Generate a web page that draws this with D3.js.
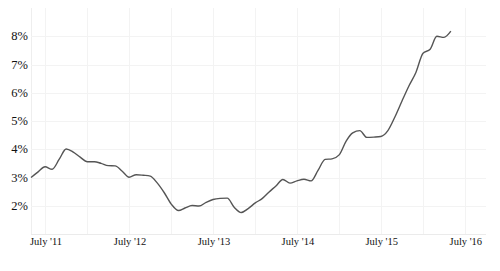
<!DOCTYPE html>
<html>
<head>
<meta charset="utf-8">
<script src="https://cdn.jsdelivr.net/npm/d3@7"></script>
<style>
  body { margin: 0; background: #fff; }
  svg text { font-family: "Liberation Serif", "Times New Roman", serif; fill: #111; }
</style>
</head>
<body>
<svg width="500" height="271"></svg>
<script>
// monthly values, May 2011 .. May 2016
var startMonth = [2011, 4];
var values = [
  3.00, 3.20, 3.38, 3.29, 3.65, 4.01, 3.90, 3.72, 3.56, 3.56, 3.50, 3.42,
  3.41, 3.22, 3.01, 3.10, 3.08, 3.05, 2.80, 2.46, 2.05, 1.83, 1.92, 2.01,
  1.99, 2.12, 2.22, 2.26, 2.27, 1.95, 1.76, 1.90, 2.10, 2.26, 2.48, 2.70,
  2.93, 2.80, 2.88, 2.94, 2.88, 3.25, 3.64, 3.66, 3.80, 4.30, 4.58, 4.66,
  4.42, 4.43, 4.45, 4.66, 5.15, 5.70, 6.25, 6.72, 7.40, 7.54, 8.00, 7.96,
  8.18
];
var yTicks = [2, 3, 4, 5, 6, 7, 8];
var xTickYears = [2011, 2012, 2013, 2014, 2015, 2016];

var data = values.map(function(v, i) {
  return { date: new Date(startMonth[0], startMonth[1] + i, 1), value: v };
});

var svg = d3.select("svg");
var plotLeft = 31, plotRight = 486, plotTop = 8, plotBottom = 234;

var x = d3.scaleTime()
  .domain([new Date(2011, 4, 1), new Date(2016, 9, 1)])
  .range([plotLeft, plotRight]);
var y = d3.scaleLinear().domain([1, 9]).range([plotBottom, plotTop]);

// vertical grid every six months
var gridDates = [];
for (var yr = 2011; yr <= 2016; yr++) {
  if (yr > 2011) gridDates.push(new Date(yr, 0, 1));
  gridDates.push(new Date(yr, 6, 1));
}
svg.append("g").selectAll("line")
  .data(gridDates)
  .enter().append("line")
  .attr("x1", function(d) { return Math.round(x(d)) + 0.5; })
  .attr("x2", function(d) { return Math.round(x(d)) + 0.5; })
  .attr("y1", plotTop)
  .attr("y2", plotBottom)
  .attr("stroke", "#f3f3f3")
  .attr("stroke-width", 1);

svg.append("line")
  .attr("x1", plotLeft + 0.5).attr("x2", plotLeft + 0.5)
  .attr("y1", plotTop).attr("y2", plotBottom)
  .attr("stroke", "#eeeeee");

// horizontal grid
svg.append("g").selectAll("line")
  .data([1].concat(yTicks))
  .enter().append("line")
  .attr("x1", plotLeft)
  .attr("x2", plotRight)
  .attr("y1", function(d) { return Math.round(y(d)) + 0.5; })
  .attr("y2", function(d) { return Math.round(y(d)) + 0.5; })
  .attr("stroke", function(d) { return d == 1 ? "#ebebeb" : "#f3f3f3"; });

// y labels
svg.append("g").selectAll("text")
  .data(yTicks)
  .enter().append("text")
  .attr("x", 28)
  .attr("y", function(d) { return y(d) + 4; })
  .attr("text-anchor", "end")
  .attr("font-size", "12.5px")
  .text(function(d) { return d + "%"; });

// x labels
svg.append("g").selectAll("text")
  .data(xTickYears)
  .enter().append("text")
  .attr("x", function(d) { return x(new Date(d, 6, 1)) + 1; })
  .attr("y", 245)
  .attr("text-anchor", "middle")
  .attr("font-size", "10.5px")
  .text(function(d) { return "July '" + String(d).slice(2); });

var line = d3.line()
  .x(function(d) { return x(d.date); })
  .y(function(d) { return y(d.value); })
  .curve(d3.curveMonotoneX);

svg.append("path")
  .datum(data)
  .attr("fill", "none")
  .attr("stroke", "#555")
  .attr("stroke-width", 1.4)
  .attr("d", line);
</script>
</body>
</html>
